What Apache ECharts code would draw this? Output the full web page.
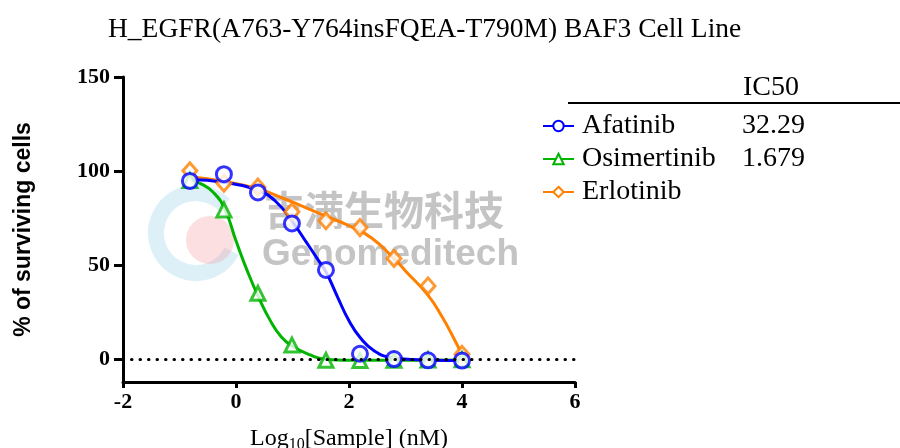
<!DOCTYPE html>
<html>
<head>
<meta charset="utf-8">
<script src="https://cdn.jsdelivr.net/npm/echarts@6/dist/echarts.min.js"></script>
<style>
  html, body { margin: 0; padding: 0; background: #fff; }
  #chart { width: 900px; height: 448px; }
</style>
</head>
<body>
<div id="chart"></div>
<script>
// chart text
const chartTitle = 'H_EGFR(A763-Y764insFQEA-T790M) BAF3 Cell Line';
const drugNames = ['Afatinib', 'Osimertinib', 'Erlotinib'];
const ic50Values = ['32.29', '1.679', ''];
const drugColors = ['#0000ff', '#00b400', '#ff8000'];
const yTicks = [0, 50, 100, 150];

// measured points, log10 concentration (nM)
const logConc = [-0.816, -0.214, 0.388, 0.990, 1.592, 2.194, 2.796, 3.398, 4.0];
const afatinibPts = [94.8, 98.4, 88.7, 72.2, 47.5, 3.0, 0.2, -0.5, -0.6];
const osimertinibPts = [95.0, 79.4, 35.1, 7.6, -0.5, -0.6, -0.4, -0.3, -0.2];
const erlotinibPts = [100.2, 93.6, 91.5, 78.4, 73.6, 70.0, 53.6, 39.0, 2.7];

// fitted curves
const afatinibFitX = [-0.82, -0.2, 0.4, 0.7, 1.0, 1.25, 1.45, 1.6, 1.8, 2.0, 2.2, 2.45, 2.75, 3.1, 3.5, 4.0];
const afatinibFitY = [95.5, 94, 89.5, 84, 73, 62, 53, 46, 33, 20.5, 11.5, 4.5, 1, 0, -0.5, -0.6];
const osimertinibFitX = [-0.82, -0.6, -0.4, -0.2, 0, 0.2, 0.4, 0.6, 0.8, 1.0, 1.3, 1.6, 2.2, 2.8, 3.4, 4.0];
const osimertinibFitY = [95.4, 93, 88.7, 80, 63, 47, 33, 21, 12, 7, 2.5, 0, -0.5, -0.5, -0.4, -0.3];
const erlotinibFitX = [-0.82, -0.2, 0.4, 0.8, 1.2, 1.6, 2.0, 2.4, 2.8, 3.0, 3.4, 3.65, 3.85, 4.0];
const erlotinibFitY = [97, 94.5, 90.5, 86, 81, 76, 71, 64.5, 53.5, 47, 34, 22.5, 11.5, 2.5];

const zip = (xs, ys) => xs.map((x, i) => [x, ys[i]]);

const serif = '"Liberation Serif", "DejaVu Serif", serif';
const sans = '"Liberation Sans", Arial, sans-serif';

const chart = echarts.init(document.getElementById('chart'));

const fits = [
    zip(afatinibFitX, afatinibFitY),
    zip(osimertinibFitX, osimertinibFitY),
    zip(erlotinibFitX, erlotinibFitY)
];
const points = [
    zip(logConc, afatinibPts),
    zip(logConc, osimertinibPts),
    zip(logConc, erlotinibPts)
];
const lineSymbols = ['emptyCircle', 'emptyTriangle', 'emptyDiamond'];
const pointSymbols = ['circle', 'triangle', 'diamond'];
const pointSizes = [15, 14, [14, 16]];

// curves first, then the markers on top (orange behind blue)
const series = [];
[2, 1, 0].forEach(i => {
    series.push({
        name: drugNames[i],
        type: 'line',
        data: fits[i],
        smooth: 0.5,
        showSymbol: false,
        symbol: lineSymbols[i],
        lineStyle: { color: drugColors[i], width: 3 },
        itemStyle: { color: drugColors[i] },
        z: 2
    });
});
[2, 1, 0].forEach(i => {
    series.push({
        name: drugNames[i] + ' points',
        type: 'scatter',
        data: points[i],
        symbol: pointSymbols[i],
        symbolSize: pointSizes[i],
        itemStyle: { color: '#fff', borderColor: drugColors[i], borderWidth: 3 },
        z: 4
    });
});

// dotted line at zero
series[0].markLine = {
    silent: true,
    symbol: 'none',
    label: { show: false },
    lineStyle: { color: '#000', type: [0.5, 8], width: 3, cap: 'round' },
    data: [{ yAxis: 0 }]
};

const option = {
    animation: false,
    title: {
        text: chartTitle,
        left: 103,
        top: 11,
        textStyle: { fontFamily: serif, fontSize: 27.5, fontWeight: 'normal', color: '#000' }
    },
    grid: {
        left: 123,
        right: 325,
        top: 77,
        bottom: 66,
        containLabel: false,
        outerBoundsMode: 'none'
    },
    legend: {
        orient: 'vertical',
        left: 537,
        top: 107,
        itemWidth: 31,
        itemHeight: 13,
        itemGap: 5,
        data: drugNames,
        formatter: name => {
            const v = ic50Values[drugNames.indexOf(name)];
            return v ? '{n|' + name + '}{v|' + v + '}' : '{n|' + name + '}';
        },
        textStyle: {
            color: '#000',
            fontFamily: serif,
            fontSize: 28,
            rich: {
                n: { fontFamily: serif, fontSize: 28, lineHeight: 28, color: '#000', width: 160, padding: [0, 0, 0, 3] },
                v: { fontFamily: serif, fontSize: 28, lineHeight: 28, color: '#000' }
            }
        }
    },
    xAxis: {
        type: 'value',
        min: -2,
        max: 6,
        interval: 2,
        name: 'Log{sub|10}[Sample] (nM)',
        nameLocation: 'middle',
        nameGap: 43,
        nameTextStyle: {
            fontFamily: serif,
            fontSize: 24,
            color: '#000',
            rich: {
                sub: { fontFamily: serif, fontSize: 16, color: '#000', verticalAlign: 'bottom', padding: [12, 0, 0, 0] }
            }
        },
        axisLine: { onZero: false, lineStyle: { color: '#000', width: 3 } },
        axisTick: { length: 6, lineStyle: { color: '#000', width: 3 } },
        axisLabel: { color: '#000', fontFamily: serif, fontWeight: 'bold', fontSize: 22, margin: 9 },
        splitLine: { show: false }
    },
    yAxis: {
        type: 'value',
        min: -12,
        max: 150,
        name: '% of surviving cells',
        nameLocation: 'middle',
        nameGap: 88,
        nameTextStyle: { fontFamily: sans, fontWeight: 'bold', fontSize: 23, color: '#000' },
        axisLine: { onZero: false, lineStyle: { color: '#000', width: 3 } },
        axisTick: { length: 9, customValues: yTicks, lineStyle: { color: '#000', width: 3 } },
        axisLabel: { customValues: yTicks, color: '#000', fontFamily: serif, fontWeight: 'bold', fontSize: 22, margin: 13 },
        splitLine: { show: false }
    },
    graphic: [
        // watermark logo
        {
            type: 'arc', z: 0, silent: true,
            shape: { cx: 196, cy: 233, r: 40, startAngle: Math.PI * 0.15, endAngle: Math.PI * 1.75, clockwise: true },
            style: { stroke: '#9fd3ea', lineWidth: 16, fill: null, opacity: 0.35 }
        },
        {
            type: 'circle', z: 0, silent: true,
            shape: { cx: 210, cy: 240, r: 24 },
            style: { fill: '#f3a3a8', opacity: 0.35 }
        },
        {
            type: 'text', z: 0, silent: true,
            style: { text: '吉满生物科技', x: 264, y: 190, font: 'bold 40px "Noto Sans CJK SC"', fill: '#c4c4c4' }
        },
        {
            type: 'text', z: 0, silent: true,
            style: { text: 'Genomeditech', x: 262, y: 236, font: 'bold 37px ' + sans, fill: '#c4c4c4' }
        },
        // IC50 table header
        {
            type: 'text',
            style: { text: 'IC50', x: 743, y: 88, verticalAlign: 'middle', font: '28px ' + serif, fill: '#000' }
        },
        {
            type: 'line',
            shape: { x1: 568, y1: 103, x2: 900, y2: 103 },
            style: { stroke: '#000', lineWidth: 2 }
        }
    ],
    series: series
};

chart.setOption(option);
window.addEventListener('resize', chart.resize);
</script>
</body>
</html>
